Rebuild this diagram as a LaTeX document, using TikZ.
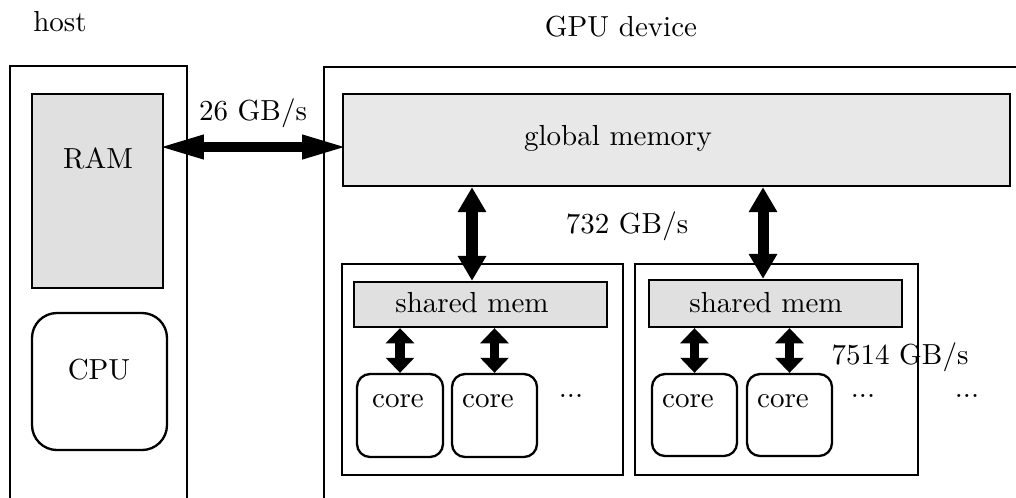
\documentclass[tikz,border=0pt]{standalone}
\usetikzlibrary{arrows.meta}
\begin{document}
\begin{tikzpicture}[x=0.3448pt,y=-0.3448pt,
  box/.style={draw,line width=0.8pt,rectangle,inner sep=0pt},
  rbox/.style={draw,line width=0.8pt,rectangle,rounded corners=#1,inner sep=0pt},
  txt/.style={inner sep=0pt,font=\normalsize},
  busH/.style={line width=3.4pt,shorten <=-2.3pt,shorten >=-2.3pt,{Triangle[length=16pt,width=7.5pt]}-{Triangle[length=16pt,width=7.5pt]}},
  busV/.style={line width=3.8pt,{Triangle[length=8.6pt,width=9.3pt]}-{Triangle[length=8.6pt,width=9.3pt]}},
  busC/.style={line width=3.4pt,{Triangle[length=5.2pt,width=9.6pt]}-{Triangle[length=5.2pt,width=9.6pt]}}
]
\clip (0,0) rectangle (1016,497);
\fill[white] (0,0) rectangle (1016,497);
% outer boxes
\draw[line width=0.8pt] (10,520) |- (187,66) -- (187,520);
\draw[line width=0.8pt] (324,520) |- (1030,67);
\node[txt] (hostlbl) at (60,22) {host};
\node[txt] (gpulbl) at (621,27) {GPU device};
% host
\node[box,fill=black!12,minimum width=131*0.3448pt,minimum height=194*0.3448pt] (ram) at (97.5,191) {};
\node[txt] (ramtxt) at (98,158) {RAM};
\node[rbox=8.6pt,minimum width=135*0.3448pt,minimum height=137*0.3448pt] (cpu) at (99.5,381.5) {};
\node[txt] (cputxt) at (99,370) {CPU};
% global memory
\node[box,fill=black!9,minimum width=667*0.3448pt,minimum height=92*0.3448pt] (gm) at (676.5,140) {};
\node[txt] (gmtxt) at (618,138) {global memory};
% SMs
\node[box,minimum width=281*0.3448pt,minimum height=211*0.3448pt] (sm1) at (482.5,369.5) {};
\node[box,minimum width=283*0.3448pt,minimum height=211*0.3448pt] (sm2) at (776.5,369.5) {};
\node[box,fill=black!12,minimum width=253*0.3448pt,minimum height=45*0.3448pt] (sh1) at (480.5,304.5) {};
\node[box,fill=black!12,minimum width=253*0.3448pt,minimum height=47*0.3448pt] (sh2) at (775.5,303.5) {};
\node[txt] (sh1txt) at (472,303) {shared mem};
\node[txt] (sh2txt) at (766,303) {shared mem};
% cores
\node[rbox=4.5pt,minimum width=86*0.3448pt,minimum height=83*0.3448pt] (c11) at (400,415.5) {};
\node[rbox=4.5pt,minimum width=85*0.3448pt,minimum height=83*0.3448pt] (c12) at (494.5,415.5) {};
\node[rbox=4.5pt,minimum width=85*0.3448pt,minimum height=82*0.3448pt] (c21) at (694.5,415) {};
\node[rbox=4.5pt,minimum width=85*0.3448pt,minimum height=82*0.3448pt] (c22) at (789.5,415) {};
\node[txt] (c11t) at (398,401) {core};
\node[txt] (c12t) at (488,401) {core};
\node[txt] (c21t) at (688,401) {core};
\node[txt] (c22t) at (783,401) {core};
\node[txt,anchor=base] (d1) at (571,397) {...};
\node[txt,anchor=base] (d2) at (863,397) {...};
\node[txt,anchor=base] (d3) at (967,397) {...};
% labels
\node[txt] (bw1) at (253,113) {26 GB/s};
\node[txt] (bw2) at (627,226) {732 GB/s};
\node[txt] (bw3) at (900,357) {7514 GB/s};
% arrows
\draw[busH] (ram.east |- 0,147) -- (gm.west |- 0,147);
\draw[busV] (gm.south -| 472,0) -- (sh1.north -| 472,0);
\draw[busV] (gm.south -| 763,0) -- (sh2.north -| 763,0);
\draw[busC] (sh1.south -| c11) -- (c11.north);
\draw[busC] (sh1.south -| c12) -- (c12.north);
\draw[busC] (sh2.south -| c21) -- (c21.north);
\draw[busC] (sh2.south -| c22) -- (c22.north);
\end{tikzpicture}
\end{document}
